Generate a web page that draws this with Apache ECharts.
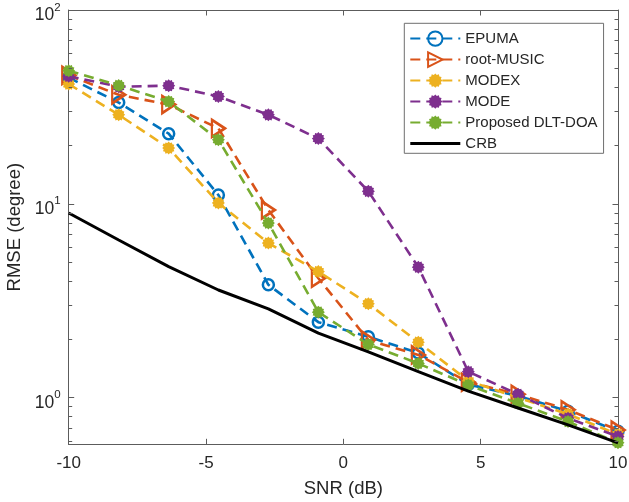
<!DOCTYPE html>
<html><head><meta charset="utf-8">
<script src="https://cdn.jsdelivr.net/npm/echarts@6/dist/echarts.min.js"></script>
<style>html,body{margin:0;padding:0;background:#fff}#c{width:629px;height:502px}</style>
</head><body><div id="c"></div>
<script>
// ---- data ----
const snr = [-10, -8.18, -6.36, -4.55, -2.73, -0.91, 0.91, 2.73, 4.55, 6.36, 8.18, 10];
const epuma     = [44.7, 33.3, 23.0, 11.1, 3.82, 2.45, 2.06, 1.70, 1.17, 1.02, 0.85, 0.67];
const rootMusic = [46.0, 36.5, 32.5, 24.5, 9.3, 4.13, 1.98, 1.66, 1.20, 1.04, 0.865, 0.68];
const modex     = [41.5, 28.8, 19.4, 10.1, 6.27, 4.47, 3.05, 1.93, 1.22, 1.00, 0.82, 0.645];
const mode      = [45.5, 40.2, 40.7, 35.8, 28.8, 21.7, 11.6, 4.71, 1.36, 1.04, 0.783, 0.63];
const proposed  = [48.6, 40.8, 33.7, 21.4, 7.95, 2.76, 1.88, 1.50, 1.16, 0.935, 0.752, 0.585];
const crb       = [8.96, 6.50, 4.74, 3.59, 2.87, 2.15, 1.72, 1.36, 1.08, 0.884, 0.723, 0.584];
const seriesNames = ['EPUMA', 'root-MUSIC', 'MODEX', 'MODE', 'Proposed DLT-DOA', 'CRB'];
const xTickLabels = [-10, -5, 0, 5, 10];
const yMinorTicks = [0.6, 0.7, 0.8, 0.9, 2, 3, 4, 5, 6, 7, 8, 9, 20, 30, 40, 50, 60, 70, 80, 90];
const xMin = -10, xMax = 10, yMin = 0.574, yMax = 100;

// ---- styles ----
const FONT = "'Liberation Sans', Arial, Helvetica, sans-serif";
const TXT = '#262626';
const AX = '#5c5c5c';
const C = ['#0072BD', '#D95319', '#EDB120', '#7E2F8E', '#77AC30', '#000000'];
const DASH = [10, 6];

function blobPath(n, rIn) {
  let d = '';
  for (let i = 0; i < 2 * n; i++) {
    const r = (i % 2 === 0) ? 100 : 100 * rIn;
    const a = Math.PI * i / n;
    const px = (100 + r * Math.cos(a)).toFixed(2), py = (100 + r * Math.sin(a)).toFixed(2);
    d += (i === 0 ? 'M' : 'L') + px + ',' + py;
  }
  return 'path://' + d + 'Z';
}
const BLOB = blobPath(12, 0.8);

function pairs(arr) { return snr.map((x, i) => [x, arr[i]]); }

function lineSeries(idx, values, symbolOpts) {
  return Object.assign({
    name: seriesNames[idx], type: 'line', data: pairs(values),
    showAllSymbol: true, z: 2 + idx,
    lineStyle: { color: C[idx], width: 2.6, type: DASH },
    emphasis: { disabled: true }, animation: false
  }, symbolOpts);
}

const series = [
  lineSeries(0, epuma, { symbol: 'circle', symbolSize: 11,
    itemStyle: { color: 'rgba(255,255,255,0)', borderColor: C[0], borderWidth: 2.5 } }),
  lineSeries(1, rootMusic, { symbol: 'triangle', symbolSize: [17, 13], symbolRotate: -90,
    itemStyle: { color: 'rgba(255,255,255,0)', borderColor: C[1], borderWidth: 2.5 } }),
  lineSeries(2, modex, { symbol: BLOB, symbolSize: 13, itemStyle: { color: C[2] } }),
  lineSeries(3, mode, { symbol: BLOB, symbolSize: 13, itemStyle: { color: C[3] } }),
  lineSeries(4, proposed, { symbol: BLOB, symbolSize: 13, itemStyle: { color: C[4] } }),
  {
    name: 'CRB', type: 'line', data: pairs(crb), symbol: 'none', z: 8,
    lineStyle: { color: '#000', width: 3, type: 'solid' }, itemStyle: { color: '#000' },
    emphasis: { disabled: true }, animation: false
  },
  {
    name: '_minor', type: 'custom', silent: true, z: 20, clip: false, animation: false,
    data: yMinorTicks.map(v => [xMin, v]),
    renderItem: function (params, api) {
      const v = api.value(1);
      const pl = api.coord([xMin, v]);
      const pr = api.coord([xMax, v]);
      const st = { stroke: AX, lineWidth: 1 };
      return { type: 'group', children: [
        { type: 'line', shape: { x1: pl[0], y1: Math.round(pl[1]) + 0.5, x2: pl[0] + 3.5, y2: Math.round(pl[1]) + 0.5 }, style: st },
        { type: 'line', shape: { x1: pr[0] - 3.5, y1: Math.round(pr[1]) + 0.5, x2: pr[0], y2: Math.round(pr[1]) + 0.5 }, style: st }
      ]};
    }
  }
];

function yLabel(v) {
  const e = Math.log10(v);
  const r = Math.round(e);
  if (Math.abs(e - r) > 1e-6) return '';
  return '{b|10}{s|' + r + '}';
}

const axisLineStyle = { show: true, onZero: false, lineStyle: { color: AX, width: 1 } };

const option = {
  backgroundColor: '#fff',
  animation: false,
  textStyle: { fontFamily: FONT },
  grid: { left: 68.7, right: 11, top: 10, bottom: 57.7, containLabel: false, outerBoundsMode: 'none' },
  legend: {
    left: 404.3, top: 23.3, orient: 'vertical',
    padding: [6.3, 6, 0.7, 5],
    itemWidth: 50, itemHeight: 18, itemGap: 3,
    backgroundColor: '#fff', borderColor: '#6e6e6e', borderWidth: 1,
    textStyle: { fontFamily: FONT, fontSize: 15, color: TXT, lineHeight: 18 },
    selectedMode: false,
    data: [
      { name: 'EPUMA' }, { name: 'root-MUSIC' }, { name: 'MODEX' }, { name: 'MODE' },
      { name: 'Proposed DLT-DOA' },
      { name: 'CRB', icon: 'path://M0,0H50V3H0Z' }
    ]
  },
  xAxis: [
    {
      type: 'value', min: xMin, max: xMax, interval: 5, position: 'bottom',
      name: 'SNR (dB)', nameLocation: 'middle', nameGap: 35,
      nameTextStyle: { fontFamily: FONT, fontSize: 18.5, color: TXT },
      axisLine: axisLineStyle,
      axisTick: { show: true, inside: true, length: 5.5, lineStyle: { color: AX } },
      axisLabel: { fontFamily: FONT, fontSize: 17, color: TXT, margin: 11,
        formatter: v => (xTickLabels.indexOf(v) >= 0 ? String(v) : '') },
      splitLine: { show: false }
    },
    {
      type: 'value', min: xMin, max: xMax, interval: 5, position: 'top',
      axisLine: axisLineStyle,
      axisTick: { show: true, inside: true, length: 5.5, lineStyle: { color: AX } },
      axisLabel: { show: false }, splitLine: { show: false }
    }
  ],
  yAxis: [
    {
      type: 'log', logBase: 10, min: yMin, max: yMax, position: 'left',
      name: 'RMSE (degree)', nameLocation: 'middle', nameGap: 44,
      nameTextStyle: { fontFamily: FONT, fontSize: 18.5, color: TXT },
      axisLine: axisLineStyle,
      axisTick: { show: true, inside: true, length: 5.5, lineStyle: { color: AX } },
      axisLabel: {
        margin: 8, color: TXT, fontFamily: FONT, formatter: yLabel, padding: [6, 0, 0, 0],
        rich: {
          b: { fontFamily: FONT, fontSize: 17.5, color: TXT, verticalAlign: 'bottom', padding: [5, 0, 0, 0] },
          s: { fontFamily: FONT, fontSize: 11.5, color: TXT, verticalAlign: 'top' }
        }
      },
      splitLine: { show: false }, minorTick: { show: false }
    },
    {
      type: 'log', logBase: 10, min: yMin, max: yMax, position: 'right',
      axisLine: axisLineStyle,
      axisTick: { show: true, inside: true, length: 5.5, lineStyle: { color: AX } },
      axisLabel: { show: false }, splitLine: { show: false }
    }
  ],
  series: series
};

const chart = echarts.init(document.getElementById('c'), null, { renderer: 'canvas' });
chart.setOption(option);
</script>
</body></html>
